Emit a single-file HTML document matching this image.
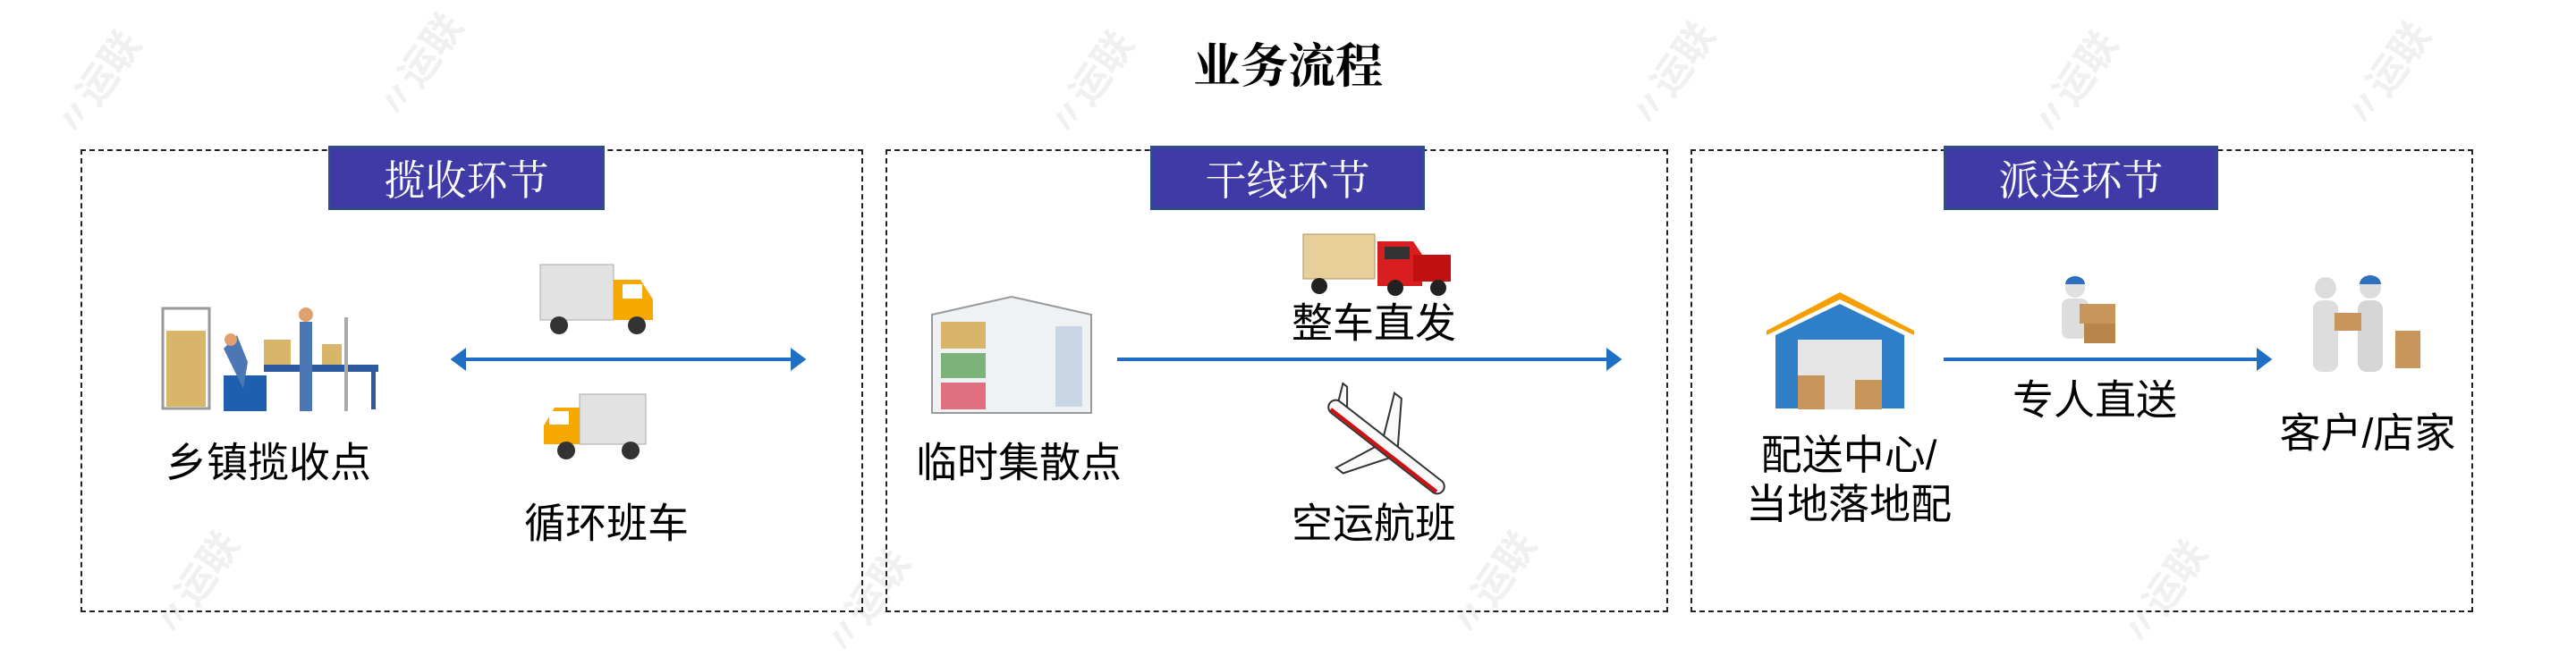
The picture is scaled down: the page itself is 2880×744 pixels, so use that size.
<!DOCTYPE html>
<html><head><meta charset="utf-8"><style>
*{margin:0;padding:0;box-sizing:border-box}
body{width:2880px;height:741px;background:#fff;position:relative;overflow:hidden;font-family:"Liberation Sans","Noto Sans CJK SC",sans-serif}
.wm{position:absolute;color:#f0f0f0;font-size:44px;font-weight:bold;transform:rotate(-55deg);white-space:nowrap}
.box{position:absolute;top:167px;height:518px;border:2px dashed #222}
.hd{position:absolute;top:163px;height:72px;background:#3f3aa6;border:3px solid #2f4d8c;color:#fff;font-size:46px;display:flex;align-items:center;justify-content:center;font-family:"Liberation Serif","Noto Serif CJK SC",serif}
.lb{position:absolute;font-size:46px;color:#000;transform:translate(-50%,-50%);white-space:nowrap;line-height:1.2;text-align:center}
svg{position:absolute}
</style></head><body>
<div class="wm" style="left:40px;top:60px">〃运联</div>
<div class="wm" style="left:400px;top:40px">〃运联</div>
<div class="wm" style="left:1150px;top:60px">〃运联</div>
<div class="wm" style="left:1800px;top:50px">〃运联</div>
<div class="wm" style="left:2250px;top:60px">〃运联</div>
<div class="wm" style="left:2600px;top:50px">〃运联</div>
<div class="wm" style="left:150px;top:620px">〃运联</div>
<div class="wm" style="left:900px;top:640px">〃运联</div>
<div class="wm" style="left:1600px;top:620px">〃运联</div>
<div class="wm" style="left:2350px;top:630px">〃运联</div>

<div style="position:absolute;left:0;width:2880px;top:32px;text-align:center;font-size:53px;font-weight:bold;font-family:'Liberation Serif','Noto Serif CJK SC',serif">业务流程</div>

<div class="box" style="left:90px;width:875px"></div>
<div class="box" style="left:990px;width:875px"></div>
<div class="box" style="left:1890px;width:875px"></div>
<div class="hd" style="left:367px;width:309px">揽收环节</div>
<div class="hd" style="left:1286px;width:307px">干线环节</div>
<div class="hd" style="left:2173px;width:307px">派送环节</div>

<svg width="2880" height="741" style="left:0;top:0">
<g stroke="#1f6fc4" stroke-width="4" fill="#1f6fc4">
<line x1="515" y1="402" x2="890" y2="402"/><polygon points="507,402 519,393 519,411"/><polygon points="898,402 886,393 886,411"/>
<line x1="1249" y1="402" x2="1800" y2="402"/><polygon points="1810,402 1798,393 1798,411"/>
<line x1="2173" y1="402" x2="2527" y2="402"/><polygon points="2537,402 2525,393 2525,411"/>
</g>
<g>
<rect x="182" y="345" width="52" height="112" fill="none" stroke="#999" stroke-width="3"/>
<rect x="186" y="370" width="44" height="85" fill="#d9b56a"/>
<rect x="250" y="420" width="48" height="40" fill="#1f5fb0"/>
<rect x="295" y="408" width="128" height="8" fill="#2d5aa0"/>
<rect x="295" y="380" width="30" height="28" fill="#d9b56a"/>
<rect x="360" y="385" width="22" height="23" fill="#d9b56a"/>
<path d="M250 390 l15 -15 l12 30 l-5 30 z" fill="#4b78b5"/>
<circle cx="258" cy="380" r="7" fill="#e0a070"/>
<rect x="335" y="360" width="14" height="100" fill="#4b78b5"/>
<circle cx="342" cy="352" r="8" fill="#e0a070"/>
<rect x="385" y="355" width="4" height="105" fill="#aaa"/>
<rect x="415" y="416" width="5" height="42" fill="#2d5aa0"/>
</g>
<g>
<rect x="604" y="296" width="82" height="62" fill="#e2e2e2" stroke="#aaa"/>
<path d="M686 313 h30 l14 22 v23 h-44z" fill="#f5a800"/>
<rect x="696" y="318" width="22" height="16" fill="#fff"/>
<circle cx="625" cy="364" r="10" fill="#333"/><circle cx="712" cy="364" r="10" fill="#333"/>
<rect x="648" y="441" width="74" height="56" fill="#e2e2e2" stroke="#aaa"/>
<path d="M648 456 h-28 l-12 20 v21 h40z" fill="#f5a800"/>
<rect x="614" y="460" width="22" height="15" fill="#fff"/>
<circle cx="633" cy="504" r="10" fill="#333"/><circle cx="705" cy="504" r="10" fill="#333"/>
</g>
<g>
<path d="M1042 352 l89 -20 l89 20 v110 h-178z" fill="#eef2f5" stroke="#999" stroke-width="2"/>
<rect x="1052" y="360" width="50" height="30" fill="#d9b56a"/>
<rect x="1052" y="395" width="50" height="28" fill="#7bb37b"/>
<rect x="1052" y="428" width="50" height="30" fill="#e07080"/>
<rect x="1180" y="365" width="30" height="90" fill="#c8d6e6"/>
</g>
<g>
<rect x="1457" y="262" width="80" height="50" fill="#e7cf9a" stroke="#b09060"/>
<path d="M1540 270 h40 l10 15 v35 h-50z" fill="#d81e1e"/>
<rect x="1548" y="276" width="28" height="14" fill="#333"/>
<rect x="1580" y="285" width="42" height="30" fill="#c01010"/>
<circle cx="1475" cy="320" r="9" fill="#222"/><circle cx="1560" cy="322" r="9" fill="#222"/><circle cx="1608" cy="322" r="9" fill="#222"/>
</g>
<g transform="rotate(38 1550 500)">
<rect x="1470" y="492" width="160" height="16" rx="8" fill="#fafafa" stroke="#333" stroke-width="2"/>
<rect x="1475" y="503" width="150" height="4" fill="#d01010"/>
<path d="M1540 492 l-20 -45 h10 l30 45z M1540 508 l-20 45 h10 l30 -45z" fill="#fafafa" stroke="#333" stroke-width="2"/>
<path d="M1476 492 l-8 -18 h6 l14 18z" fill="#fafafa" stroke="#333" stroke-width="2"/>
</g>
<g>
<path d="M1975 370 l82 -43 l83 43 v5 l-83 -40 l-82 40z" fill="#f5a000"/>
<path d="M1985 375 l72 -35 l72 35 v82 h-144z" fill="#2f7fc8"/>
<rect x="2010" y="380" width="94" height="78" fill="#e5e5e5"/>
<rect x="2010" y="420" width="30" height="38" fill="#c8955a"/><rect x="2074" y="425" width="30" height="33" fill="#c8955a"/>
</g>
<g>
<circle cx="2320" cy="322" r="11" fill="#e0e0e0"/><path d="M2309 318 a11 9 0 0 1 22 0z" fill="#2f6fc0"/>
<rect x="2305" y="334" width="30" height="45" rx="8" fill="#ddd"/>
<rect x="2325" y="340" width="40" height="22" fill="#c8955a"/><rect x="2330" y="362" width="35" height="22" fill="#b8854a"/>
</g>
<g>
<circle cx="2600" cy="322" r="12" fill="#ddd"/><rect x="2586" y="336" width="28" height="80" rx="10" fill="#ddd"/>
<circle cx="2650" cy="322" r="12" fill="#ddd"/><path d="M2638 318 a12 10 0 0 1 24 0z" fill="#2f6fc0"/>
<rect x="2636" y="336" width="28" height="80" rx="10" fill="#d5d5d5"/>
<rect x="2610" y="350" width="30" height="20" fill="#c8955a"/>
<rect x="2678" y="370" width="28" height="42" fill="#c8955a"/>
</g>
</svg>

<div class="lb" style="left:300px;top:518px">乡镇揽收点</div>
<div class="lb" style="left:678px;top:586px">循环班车</div>
<div class="lb" style="left:1139px;top:518px">临时集散点</div>
<div class="lb" style="left:1536px;top:362px">整车直发</div>
<div class="lb" style="left:1536px;top:586px">空运航班</div>
<div class="lb" style="left:2067px;top:537px">配送中心/<br>当地落地配</div>
<div class="lb" style="left:2342px;top:448px">专人直送</div>
<div class="lb" style="left:2647px;top:485px">客户/店家</div>
</body></html>
